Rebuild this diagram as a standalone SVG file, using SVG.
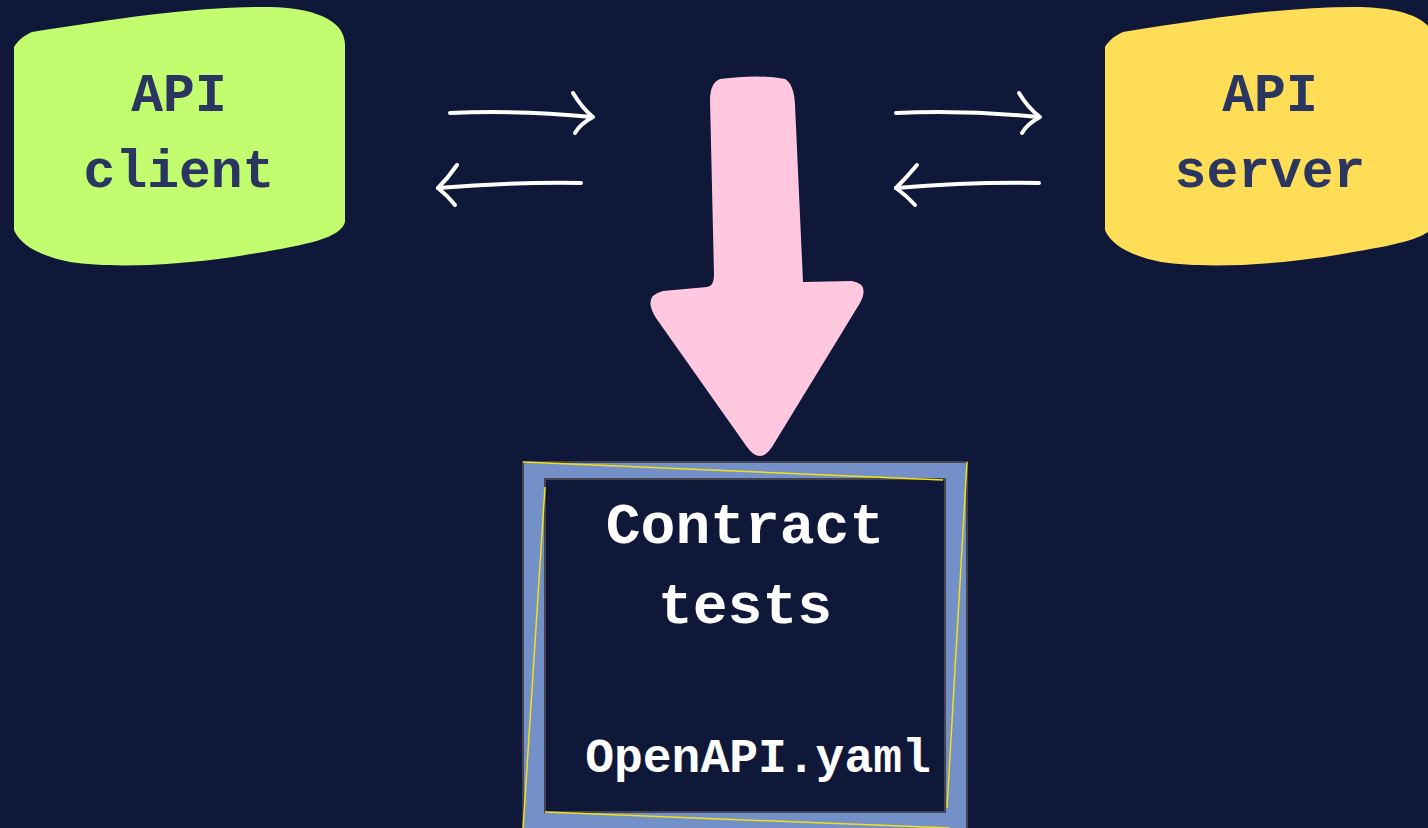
<svg xmlns="http://www.w3.org/2000/svg" width="1428" height="828" viewBox="0 0 1428 828">
  <style>
    .bg { fill: #10183a; }
    .blob-text { font-family: "Liberation Mono", "Courier New", monospace; font-weight: bold; font-size: 53px; fill: #2a3560; text-anchor: middle; }
    .ct-text { font-family: "Liberation Mono", "Courier New", monospace; font-weight: bold; fill: #ffffff; text-anchor: middle; }
    .flow { fill: none; stroke: #ffffff; stroke-width: 4; stroke-linecap: round; stroke-linejoin: round; }
    .sketch { fill: none; stroke: #f2e01a; stroke-width: 1.5; }
  </style>
  <defs>
    <path id="blob" d="M 32,32 C 120,18 200,6 270,7 C 310,8 345,18 345,45 L 345,222 C 340,240 300,246 233,257 C 170,266 110,268 70,262 C 40,256 20,245 14,230 L 14,47 C 18,40 25,35 32,32 Z"/>
  </defs>
  <rect class="bg" x="0" y="0" width="1428" height="828"/>

  <g id="api-client">
    <use href="#blob" fill="#c2fd6f"/>
    <text class="blob-text" x="179" y="111">API</text>
    <text class="blob-text" x="179" y="187">client</text>
  </g>

  <g id="api-server">
    <use href="#blob" fill="#ffdd57" transform="translate(1091,0)"/>
    <text class="blob-text" x="1270" y="111">API</text>
    <text class="blob-text" x="1270" y="187">server</text>
  </g>

  <g id="contract-tests">
    <rect x="523" y="462" width="444" height="380" fill="#7490c8" stroke="#45454f" stroke-width="2"/>
    <rect x="545" y="479" width="400" height="333" fill="#10183a" stroke="#45454f" stroke-width="2"/>
    <path class="sketch" d="M 523,462 L 943,480"/>
    <path class="sketch" d="M 967,462 L 947,808"/>
    <path class="sketch" d="M 545,487 L 523,830"/>
    <path class="sketch" d="M 545,812 L 950,828"/>
    <text class="ct-text" x="745" y="543" font-size="58">Contract</text>
    <text class="ct-text" x="745" y="623" font-size="58">tests</text>
    <text class="ct-text" x="758" y="772" font-size="48">OpenAPI.yaml</text>
  </g>

  <g id="connectors">
    <path class="flow" d="M 450,113 Q 520,110 592,117"/>
    <path class="flow" d="M 573,93 Q 582,108 593,117 Q 580,124 575,133"/>
    <path class="flow" d="M 581,183 Q 510,182 438,188"/>
    <path class="flow" d="M 457,165 Q 448,178 438,188 Q 448,196 455,205"/>

    <path class="flow" d="M 896,113 Q 966,110 1039,117"/>
    <path class="flow" d="M 1019,93 Q 1028,108 1040,117 Q 1027,124 1022,133"/>
    <path class="flow" d="M 1039,183 Q 968,182 896,188"/>
    <path class="flow" d="M 917,165 Q 906,178 896,188 Q 907,196 915,205"/>

    <path id="pink-arrow" fill="#ffc8de" d="M 720,79 Q 758,74 785,79 Q 794,84 795,105 L 803,282 L 852,281 Q 870,284 860,303 L 772,447 Q 760,465 747,447 L 656,318 Q 642,296 663,291 L 707,287 Q 714,286 714,275 L 710,100 Q 710,83 720,79 Z"/>
  </g>
</svg>
